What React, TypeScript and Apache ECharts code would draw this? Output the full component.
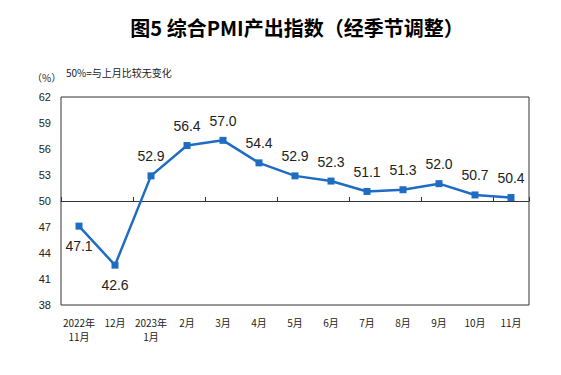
import React, { useEffect, useRef } from "react";
import * as echarts from "echarts";

const categories = [
  "2022年\n11月", "12月", "2023年\n1月", "2月", "3月", "4月", "5月",
  "6月", "7月", "8月", "9月", "10月", "11月",
];
const pmiValues = [47.1, 42.6, 52.9, 56.4, 57.0, 54.4, 52.9, 52.3, 51.1, 51.3, 52.0, 50.7, 50.4];
const belowLabelIdx = [0, 1];
const yMin = 38;
const yMax = 62;
const yStep = 3;

const titleText = "图5 综合PMI产出指数（经季节调整）";
const unitText = "（%）";
const noteText = "50%=与上月比较无变化";

export default function App() {
  const ref = useRef<HTMLDivElement>(null);
  useEffect(() => {
    if (!ref.current) return;
    const chart = echarts.init(ref.current, undefined, { renderer: "svg" });
    const cjk = "'Noto Sans CJK SC', 'Liberation Sans', sans-serif";
    const latin = "'Liberation Sans', Arial, sans-serif";
    chart.setOption({
      animation: false,
      backgroundColor: "#ffffff",
      title: {
        text: titleText,
        left: 292,
        top: 12,
        textAlign: "center",
        textStyle: { fontFamily: cjk, fontSize: 20, fontWeight: "bold", color: "#000" },
      },
      graphic: [
        {
          type: "text",
          left: 32,
          top: 72,
          style: { text: unitText, fontFamily: cjk, fontSize: 10, fill: "#222" },
        },
        {
          type: "text",
          left: 66,
          top: 67,
          style: { text: noteText, fontFamily: cjk, fontSize: 10, fill: "#222" },
        },
      ],
      grid: {
        left: 61,
        top: 97,
        right: 32,
        bottom: 70,
        show: true,
        borderColor: "#333",
        borderWidth: 1,
        backgroundColor: "transparent",
      },
      xAxis: [
        {
          type: "category",
          data: categories,
          boundaryGap: true,
          position: "bottom",
          axisLine: { show: false },
          axisTick: { show: false },
          axisLabel: {
            interval: 0,
            margin: 10,
            fontFamily: cjk,
            fontSize: 10,
            lineHeight: 14,
            color: "#222",
          },
          splitLine: { show: false },
        },
        {
          type: "category",
          data: categories,
          boundaryGap: true,
          position: "bottom",
          offset: -104,
          axisLine: { show: true, lineStyle: { color: "#333", width: 1 } },
          axisTick: { show: true, inside: true, length: 4, lineStyle: { color: "#333" } },
          axisLabel: { show: false },
          splitLine: { show: false },
        },
      ],
      yAxis: {
        type: "value",
        min: yMin,
        max: yMax,
        interval: yStep,
        axisLine: { show: false },
        axisTick: { show: false },
        splitLine: { show: false },
        axisLabel: { fontFamily: latin, fontSize: 11, color: "#222", margin: 10 },
      },
      series: [
        {
          type: "line",
          xAxisIndex: 0,
          data: pmiValues.map((v, i) => ({
            value: v,
            label: {
              position: belowLabelIdx.includes(i) ? "bottom" : "top",
            },
          })),
          lineStyle: { color: "#1f6dc2", width: 2.5 },
          itemStyle: { color: "#1f6dc2" },
          symbol: "rect",
          symbolSize: 7,
          label: {
            show: true,
            distance: 9,
            fontFamily: latin,
            fontSize: 14,
            color: "#222",
            formatter: (p: any) => Number(p.value).toFixed(1),
          },
        },
      ],
    });
    return () => chart.dispose();
  }, []);
  return <div ref={ref} style={{ width: 561, height: 375, margin: -8 }} />;
}
